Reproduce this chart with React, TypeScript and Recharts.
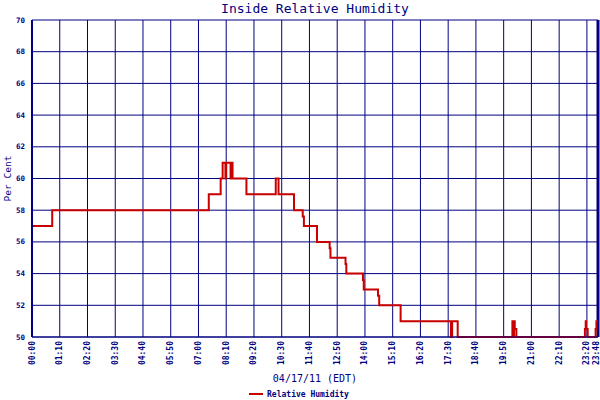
import React from 'react';
import {
  LineChart, Line, XAxis, YAxis, CartesianGrid, Legend, ReferenceLine
} from 'recharts';

// minutes since midnight, value holds until the next minute (step after)
const minutes = [
  0, 51, 446, 476, 481, 488, 490, 501, 504, 506, 541, 615, 622, 661,
  683, 686, 719, 751, 753, 791, 793, 835, 837, 873, 876, 930,
  1057, 1060, 1074, 1212, 1214, 1216, 1218, 1222,
  1395, 1397, 1398, 1402, 1422, 1424, 1428
];
const humidity = [
  57, 58, 59, 60, 61, 60, 61, 60, 61, 60, 59, 60, 59, 58,
  57.6, 57, 56, 55.6, 55, 54.6, 54, 53.6, 53, 52.6, 52, 51,
  50, 51, 50, 51, 50, 51, 50.5, 50,
  50.5, 51, 50.5, 50, 50.5, 51, 51
];

const xTicks = [
  0, 70, 140, 210, 280, 350, 420, 490, 560, 630, 700, 770, 840, 910,
  980, 1050, 1120, 1190, 1260, 1330, 1400, 1428
];
const yTicks = [50, 52, 54, 56, 58, 60, 62, 64, 66, 68, 70];

const data = minutes.map((t, i) => ({ t, rh: humidity[i] }));

const NAVY = '#000080';
const RED = '#c80000';
const MONO = '"DejaVu Sans Mono", "Liberation Mono", monospace';

const fmt = (m: number) => {
  const h = Math.floor(m / 60);
  const mm = m % 60;
  return `${String(h).padStart(2, '0')}:${String(mm).padStart(2, '0')}`;
};

const XTick = (props: any) => {
  const { x, y, payload, index } = props;
  // the last label sits against the right edge
  const dx = index === xTicks.length - 1 ? -2 : 0;
  return (
    <text
      x={0} y={0}
      transform={`translate(${x + dx},${y - 4}) rotate(-90)`}
      textAnchor="end"
      dominantBaseline="central"
      fontFamily={MONO}
      fontSize={8}
      fontWeight="bold"
      fill={NAVY}
    >
      {fmt(payload.value)}
    </text>
  );
};

const YTick = (props: any) => {
  const { x, y, payload } = props;
  return (
    <text
      x={x + 1} y={y}
      textAnchor="end"
      dominantBaseline="central"
      fontFamily={MONO}
      fontSize={7.5}
      fontWeight="bold"
      fill={NAVY}
    >
      {payload.value}
    </text>
  );
};

const LegendContent = () => (
  <div style={{ display: 'flex', justifyContent: 'center', alignItems: 'center', height: 12 }}>
    <span style={{ display: 'inline-block', width: 14, height: 2, background: RED, marginRight: 4 }} />
    <span style={{ fontFamily: MONO, fontSize: 8, fontWeight: 'bold', color: NAVY }}>
      Relative Humidity
    </span>
  </div>
);

export default function App() {
  return (
    <div style={{ position: 'absolute', left: 0, top: 0, width: 600, height: 400, background: '#fff' }}>
      <div
        style={{
          position: 'absolute', left: 32, width: 566, top: 1, textAlign: 'center',
          fontFamily: MONO, fontSize: 13, color: NAVY
        }}
      >
        Inside Relative Humidity
      </div>
      <LineChart
        width={600}
        height={400}
        data={data}
        margin={{ top: 20, right: 2, bottom: 0, left: 0 }}
      >
        <CartesianGrid stroke={NAVY} strokeWidth={1} />
        <XAxis
          dataKey="t"
          type="number"
          domain={[0, 1428]}
          ticks={xTicks}
          interval={0}
          height={51}
          tick={<XTick />}
          tickLine={false}
          axisLine={{ stroke: NAVY, strokeWidth: 1 }}
          label={{
            content: (p: any) => {
              const vb = p.viewBox;
              return (
                <text
                  x={vb.x + vb.width / 2}
                  y={vb.y + 45}
                  textAnchor="middle"
                  fontFamily={MONO}
                  fontSize={10}
                  fill={NAVY}
                >
                  04/17/11 (EDT)
                </text>
              );
            }
          }}
        />
        <YAxis
          type="number"
          domain={[50, 70]}
          ticks={yTicks}
          interval={0}
          width={32}
          tick={<YTick />}
          tickLine={false}
          axisLine={{ stroke: NAVY, strokeWidth: 2 }}
          label={{
            content: (p: any) => {
              const vb = p.viewBox;
              const cy = vb.y + vb.height / 2;
              return (
                <text
                  x={0} y={0}
                  transform={`translate(7,${cy}) rotate(-90)`}
                  textAnchor="middle"
                  dominantBaseline="central"
                  fontFamily={MONO}
                  fontSize={9.5}
                  fill={NAVY}
                >
                  Per Cent
                </text>
              );
            }
          }}
        />
        <ReferenceLine x={1428} stroke={NAVY} strokeWidth={3} />
        <Line
          type="stepAfter"
          dataKey="rh"
          stroke={RED}
          strokeWidth={2}
          dot={false}
          isAnimationActive={false}
        />
        <Legend verticalAlign="bottom" height={12} content={<LegendContent />} />
      </LineChart>
    </div>
  );
}
